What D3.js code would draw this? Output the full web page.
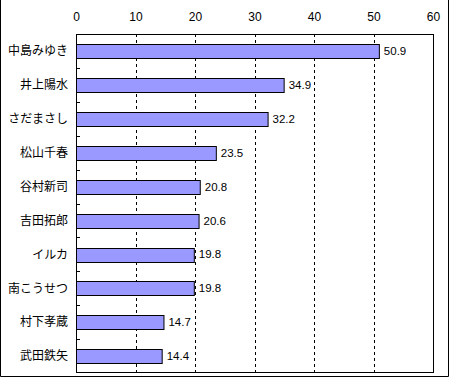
<!DOCTYPE html>
<html><head><meta charset="utf-8">
<script src="https://cdn.jsdelivr.net/npm/d3@7"></script>
<style>body{margin:0;background:#fff}svg{display:block}</style>
</head><body><svg id="c" width="450" height="379"></svg>
<script>
const categories = ["中島みゆき","井上陽水","さだまさし","松山千春","谷村新司","吉田拓郎","イルカ","南こうせつ","村下孝蔵","武田鉄矢"];
const values = [50.9,34.9,32.2,23.5,20.8,20.6,19.8,19.8,14.7,14.4];
const tickValues = [0,10,20,30,40,50,60];

const svg = d3.select("#c");
const L = 76, R = 433, T = 34, B = 373;
const x = d3.scaleLinear().domain([0,60]).range([L,R]);
const y = d3.scaleBand().domain(categories).range([T,B]).paddingInner(0.6).paddingOuter(0.3);
const yb = d3.scaleBand().domain(categories).range([T,B]);

// outer border (left, right, bottom)
svg.append("path").attr("d","M0.5,0 V376.5 H448.5 V0").attr("fill","none").attr("stroke","#000");

// gridlines
svg.append("g").selectAll("line").data(tickValues.filter(d=>d>0&&d<60)).join("line")
  .attr("x1",d=>Math.round(x(d))+0.5).attr("x2",d=>Math.round(x(d))+0.5)
  .attr("y1",T).attr("y2",B).attr("stroke","#000").attr("stroke-dasharray","3,3");

// top axis labels
const ax = d3.axisTop(x).tickValues(tickValues).tickSize(0).tickPadding(0);
const g = svg.append("g").attr("transform",`translate(0,21)`).call(ax);
g.select(".domain").remove();
g.selectAll("text").attr("font-family","Liberation Sans, Arial, sans-serif").attr("font-size","12px").attr("fill","#000");

// category boundary ticks (inward)
svg.append("g").selectAll("line").data(categories.slice(1)).join("line")
  .attr("x1",L).attr("x2",L+4)
  .attr("y1",d=>Math.round(yb(d))+0.5).attr("y2",d=>Math.round(yb(d))+0.5)
  .attr("stroke","#000");

// bars
svg.append("g").selectAll("rect").data(values).join("rect")
  .attr("x",L+0.5)
  .attr("y",(d,i)=>Math.round(y(categories[i]))+0.5)
  .attr("width",d=>x(d)-L)
  .attr("height",Math.round(y.bandwidth()))
  .attr("fill","#9999FF").attr("stroke","#000");

// value labels
svg.append("g").selectAll("text").data(values).join("text")
  .attr("x",d=>x(d)+5)
  .attr("y",(d,i)=>y(categories[i])+y.bandwidth()/2)
  .attr("dy","0.36em")
  .attr("font-family","Liberation Sans, Arial, sans-serif").attr("font-size","11.5px")
  .text(d=>d.toFixed(1));

// category labels
svg.append("g").selectAll("text").data(categories).join("text")
  .attr("x",68).attr("y",d=>yb(d)+yb.bandwidth()/2)
  .attr("dy","0.36em").attr("text-anchor","end")
  .attr("font-family","Noto Sans CJK JP, sans-serif").attr("font-size","12px")
  .text(d=>d);

// plot frame
svg.append("rect").attr("x",L+0.5).attr("y",T+0.5).attr("width",R-L).attr("height",B-T-1)
  .attr("fill","none").attr("stroke","#000");
</script></body></html>
